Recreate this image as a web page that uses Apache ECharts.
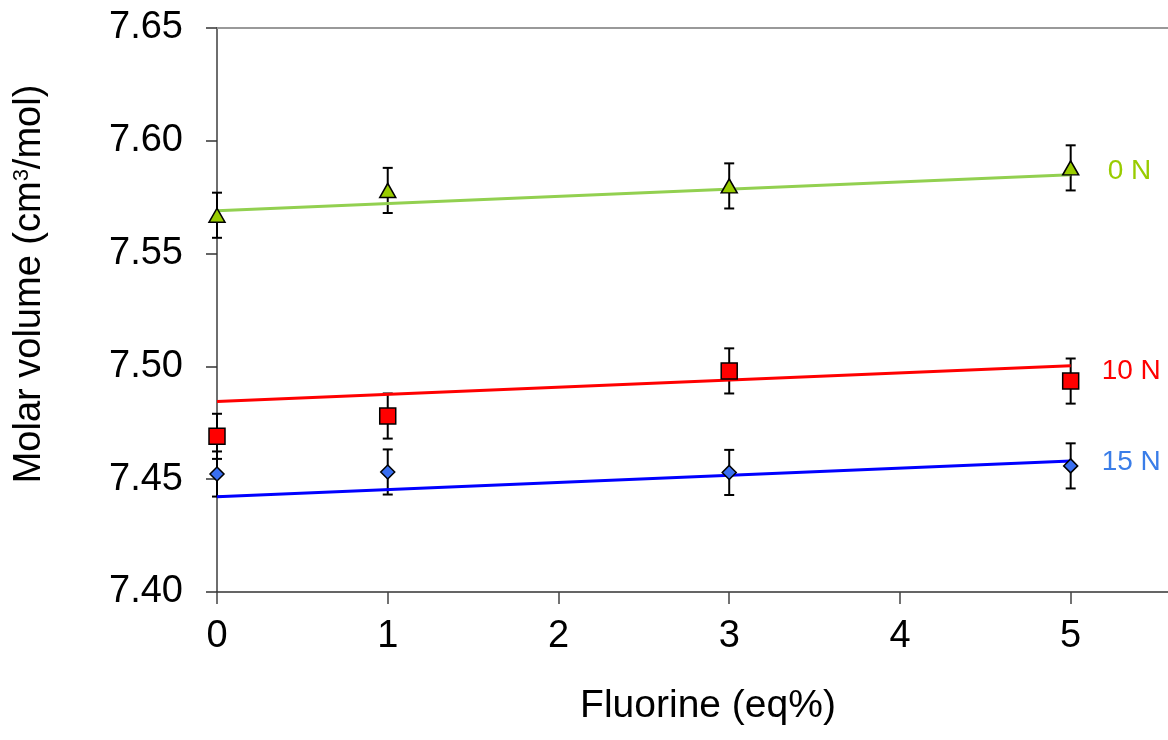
<!DOCTYPE html>
<html>
<head>
<meta charset="utf-8">
<script src="https://cdn.jsdelivr.net/npm/echarts@6/dist/echarts.min.js"></script>
<style>
  html, body { margin: 0; padding: 0; background: #fff; }
  #chart { width: 1168px; height: 740px; }
</style>
</head>
<body>
<div id="chart"></div>
<script>
// Fluorine content (eq%) of each sample
const fluorine = [0, 1, 3, 5];

// Molar volume (cm3/mol) per nitrogen level
const vol0N  = [7.567, 7.578, 7.580, 7.588];
const vol10N = [7.469, 7.478, 7.498, 7.4935];
const vol15N = [7.4523, 7.4532, 7.4530, 7.4559];

// Error bar half-widths
const err0N  = [0.010, 0.010, 0.010, 0.010];
const err10N = [0.010, 0.010, 0.010, 0.010];
const err15N = [0.010, 0.010, 0.010, 0.010];

// Linear trend lines, values at the ends of the fluorine range
const trendX    = [0, 5];
const trend0N   = [7.569, 7.585];
const trend10N  = [7.4844, 7.5003];
const trend15N  = [7.4422, 7.4581];

// Series labels
const seriesNames = ['0 N', '10 N', '15 N'];

// Axis ticks
const yTicks = { min: 7.40, max: 7.65, step: 0.05 };
const xTickValues = [0, 1, 2, 3, 4, 5];
const xRange = { min: 0, max: 5.57 };

const FONT = 'Liberation Sans, Arial, Helvetica, sans-serif';

function pairs(xs, ys) { return xs.map((x, i) => [x, ys[i]]); }
function triples(xs, ys, es) { return xs.map((x, i) => [x, ys[i], es[i]]); }

function errorBars(data) {
  return {
    type: 'custom',
    z: 2,
    silent: true,
    data: data,
    renderItem: function (params, api) {
      const x = api.value(0), y = api.value(1), e = api.value(2);
      const lo = api.coord([x, y - e]);
      const hi = api.coord([x, y + e]);
      const cap = 5;
      const style = { stroke: '#000', lineWidth: 2 };
      return {
        type: 'group',
        children: [
          { type: 'line', shape: { x1: lo[0], y1: lo[1], x2: hi[0], y2: hi[1] }, style: style },
          { type: 'line', shape: { x1: lo[0] - cap, y1: lo[1], x2: lo[0] + cap, y2: lo[1] }, style: style },
          { type: 'line', shape: { x1: hi[0] - cap, y1: hi[1], x2: hi[0] + cap, y2: hi[1] }, style: style }
        ]
      };
    }
  };
}

function trend(name, ys, color, labelColor, dist, dy) {
  return {
    type: 'line',
    name: name,
    z: 3,
    silent: true,
    data: pairs(trendX, ys),
    showSymbol: false,
    symbol: 'none',
    lineStyle: { color: color, width: 3 },
    endLabel: {
      show: true,
      formatter: name,
      color: labelColor,
      fontFamily: FONT,
      fontSize: 28,
      distance: dist,
      offset: [0, dy]
    }
  };
}

function markers(ys, symbol, size, fill) {
  return {
    type: 'scatter',
    z: 4,
    data: pairs(fluorine, ys),
    symbol: symbol,
    symbolSize: size,
    itemStyle: { color: fill, borderColor: '#000', borderWidth: 1.5, opacity: 1 }
  };
}

const chart = echarts.init(document.getElementById('chart'), null, { renderer: 'canvas' });

chart.setOption({
  backgroundColor: '#ffffff',
  animation: false,
  grid: { left: 217, top: 28, bottom: 148, right: 0, show: false },
  xAxis: [{
    type: 'value',
    position: 'bottom',
    min: xRange.min, max: xRange.max,
    name: 'Fluorine (eq%)',
    nameLocation: 'middle',
    nameGap: 95,
    nameTextStyle: { color: '#000', fontFamily: FONT, fontSize: 39, padding: [0, 0, 0, 31] },
    axisLine: { onZero: false, lineStyle: { color: '#333', width: 1.5 } },
    axisTick: { show: true, inside: false, length: 12, customValues: xTickValues, lineStyle: { color: '#444', width: 1.5 } },
    axisLabel: {
      color: '#000', fontFamily: FONT, fontSize: 38, margin: 26,
      customValues: xTickValues,
      formatter: v => String(v)
    },
    splitLine: { show: false }
  }, {
    // plain top frame line
    type: 'value',
    position: 'top',
    min: xRange.min, max: xRange.max,
    axisLine: { onZero: false, lineStyle: { color: '#999999', width: 2 } },
    axisTick: { show: false },
    axisLabel: { show: false },
    splitLine: { show: false }
  }],
  yAxis: {
    type: 'value',
    min: yTicks.min, max: yTicks.max, interval: yTicks.step,
    name: 'Molar volume (cm{sup|3}/mol)',
    nameLocation: 'middle',
    nameGap: 168,
    nameRotate: 90,
    nameTextStyle: {
      color: '#000', fontFamily: FONT, fontSize: 38, padding: [0, 0, 0, 52],
      rich: { sup: { fontFamily: FONT, fontSize: 22, verticalAlign: 'top', padding: [0, 0, 14, 0], color: '#000' } }
    },
    axisLine: { onZero: false, lineStyle: { color: '#6e6e6e', width: 2 } },
    axisTick: { show: true, inside: false, length: 11, lineStyle: { color: '#333', width: 1.5 } },
    axisLabel: {
      color: '#000', fontFamily: FONT, fontSize: 38, margin: 34,
      formatter: v => v.toFixed(2)
    },
    splitLine: { show: false }
  },
  series: [
    errorBars(triples(fluorine, vol0N, err0N)),
    errorBars(triples(fluorine, vol10N, err10N)),
    errorBars(triples(fluorine, vol15N, err15N)),
    trend(seriesNames[0], trend0N, '#92d050', '#99cc00', 37, -3),
    trend(seriesNames[1], trend10N, '#ff0000', '#ff0000', 31, 6),
    trend(seriesNames[2], trend15N, '#0000ff', '#3a7de8', 31, 1),
    markers(vol0N, 'triangle', [16, 14], '#99cc00'),
    markers(vol10N, 'rect', [16, 16], '#ff0000'),
    markers(vol15N, 'diamond', [14, 14], '#3a6ff0')
  ]
});
</script>
</body>
</html>
